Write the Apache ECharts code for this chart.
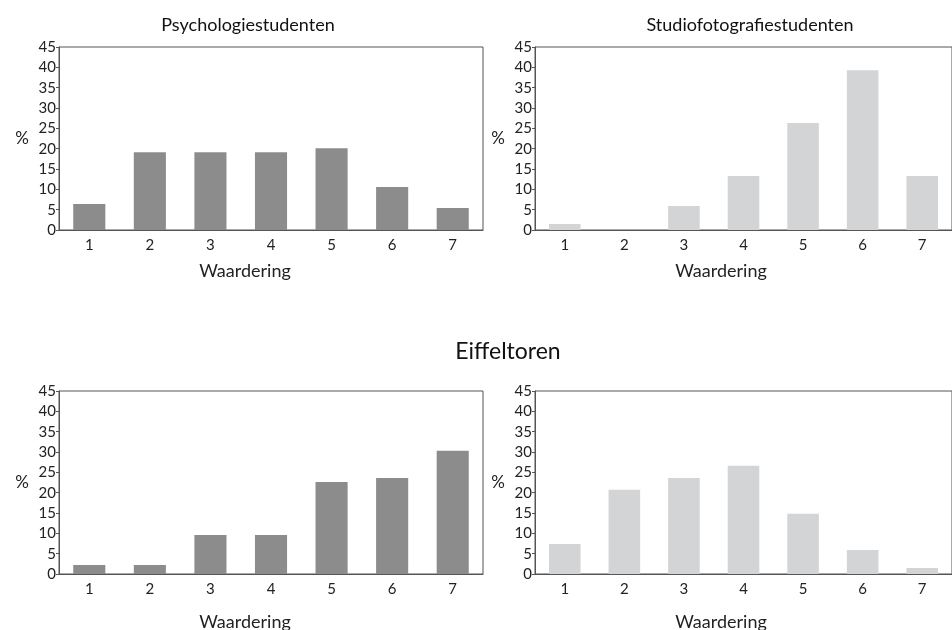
<!DOCTYPE html>
<html><head><meta charset="utf-8">
<script src="https://cdn.jsdelivr.net/npm/echarts@6/dist/echarts.min.js"></script>
<style>html,body{margin:0;padding:0;background:#fff}#c{width:952px;height:630px}</style>
</head><body><div id="c"></div>
<script>
const categories = ['1','2','3','4','5','6','7'];
const yTicks = [0,5,10,15,20,25,30,35,40,45];
const psychTop = [6.4, 19.1, 19.1, 19.1, 20.1, 10.6, 5.4];
const fotoTop = [1.5, 0, 5.9, 13.3, 26.3, 39.3, 13.3];
const psychEiffel = [2.2, 2.2, 9.6, 9.6, 22.6, 23.6, 30.3];
const fotoEiffel = [7.4, 20.7, 23.6, 26.6, 14.8, 5.9, 1.5];
const titles = ['Psychologiestudenten', 'Studiofotografiestudenten', 'Eiffeltoren'];
const xName = 'Waardering';
const yName = '%';

const FONT = 'Lato';
const DARK = '#8c8c8d', LIGHT = '#d3d4d6';
const panels = [
  {left: 59, top: 47, data: psychTop, color: DARK},
  {left: 535, top: 47, data: fotoTop, color: LIGHT},
  {left: 59, top: 391, data: psychEiffel, color: DARK},
  {left: 535, top: 391, data: fotoEiffel, color: LIGHT}
];
const W = 424, H = 183;
const grid = [], xAxis = [], yAxis = [], series = [], graphic = [];
panels.forEach((p, i) => {
  grid.push({left: p.left, top: p.top, width: W, height: H, show: true, borderColor: '#555', borderWidth: 1, backgroundColor: 'transparent'});
  xAxis.push({type: 'category', gridIndex: i, data: categories,
    axisLine: {lineStyle: {color: '#555', width: 1}}, axisTick: {show: false},
    axisLabel: {color: '#222', fontFamily: FONT, fontSize: 15, margin: 8}});
  yAxis.push({type: 'value', gridIndex: i, min: 0, max: 45, interval: 5,
    axisLine: {show: true, lineStyle: {color: '#555', width: 1}},
    axisTick: {show: true, length: 3, lineStyle: {color: '#555'}},
    splitLine: {show: false},
    axisLabel: {color: '#222', fontFamily: FONT, fontSize: 15, margin: 3,
      formatter: v => yTicks.includes(v) ? String(v) : ''}});
  series.push({type: 'bar', xAxisIndex: i, yAxisIndex: i, data: p.data, barWidth: '53%',
    itemStyle: {color: p.color}, silent: true});
  graphic.push({type: 'text', style: {text: yName, x: p.left - 37, y: p.top + H / 2,
    align: 'center', verticalAlign: 'middle', fontFamily: FONT, fontSize: 17, fill: '#222'}});
  graphic.push({type: 'text', style: {text: xName, x: p.left + 186, y: p.top + H + (i < 2 ? 41 : 48),
    align: 'center', verticalAlign: 'middle', fontFamily: FONT, fontSize: 18, fill: '#222'}});
});
graphic.push({type: 'text', style: {text: titles[0], x: 248, y: 25, align: 'center', verticalAlign: 'middle', fontFamily: FONT, fontSize: 18, fill: '#111'}});
graphic.push({type: 'text', style: {text: titles[1], x: 750, y: 25, align: 'center', verticalAlign: 'middle', fontFamily: FONT, fontSize: 18, fill: '#111'}});
graphic.push({type: 'text', style: {text: titles[2], x: 508, y: 352, align: 'center', verticalAlign: 'middle', fontFamily: FONT, fontSize: 23, fill: '#111'}});

const chart = echarts.init(document.getElementById('c'), null, {renderer: 'canvas'});
chart.setOption({animation: false, backgroundColor: '#fff', grid, xAxis, yAxis, series, graphic});
</script></body></html>
